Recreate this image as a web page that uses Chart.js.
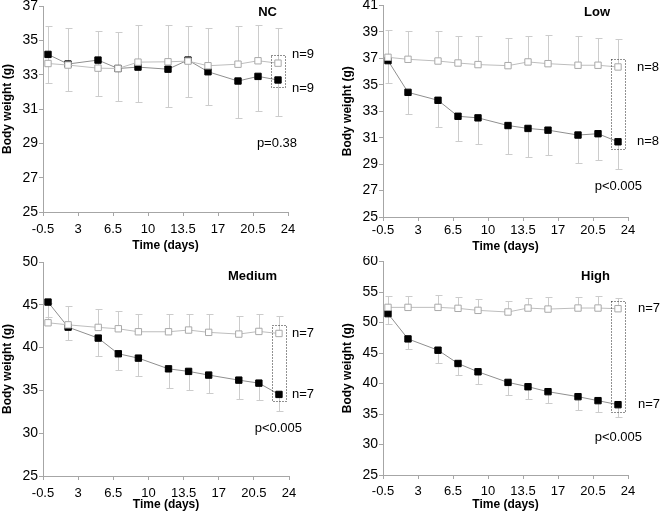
<!DOCTYPE html>
<html>
<head>
<meta charset="utf-8">
<script src="https://cdn.jsdelivr.net/npm/chart.js@4.4.1/dist/chart.umd.min.js"></script>
<style>
  body { margin: 0; background: #fff; }
  #wrap { position: relative; width: 661px; height: 513px; }
  canvas { position: absolute; }
</style>
</head>
<body>
<div id="wrap">
  <canvas id="nc" width="330" height="256" style="left:0;top:0"></canvas>
  <canvas id="low" width="331" height="256" style="left:330px;top:0"></canvas>
  <canvas id="medium" width="330" height="257" style="left:0;top:256px"></canvas>
  <canvas id="high" width="331" height="257" style="left:330px;top:256px"></canvas>
</div>
<script>
// days of measurement
const days = [0, 2, 5, 7, 9, 12, 14, 16, 19, 21, 23];
const xTicks = [-0.5, 3, 6.5, 10, 13.5, 17, 20.5, 24];

// NC group
const ncControl = [33.65, 33.56, 33.38, 33.36, 33.73, 33.75, 33.79, 33.52, 33.61, 33.81, 33.67];
const ncControlSd = [2.17, 2.13, 2.17, 2.13, 2.15, 2.13, 2.03, 2.17, 2.21, 2.07, 2.02];
const ncTreated = [34.18, 33.62, 33.85, 33.36, 33.44, 33.32, 33.85, 33.17, 32.63, 32.9, 32.69];
const ncTreatedSd = [1.69, 1.56, 2.09, 1.89, 2.05, 2.22, 2.13, 1.94, 2.13, 2.01, 2.1];
const ncTicks = [25, 27, 29, 31, 33, 35, 37];

// Low dose
const lowControl = [37.08, 36.93, 36.8, 36.65, 36.53, 36.45, 36.73, 36.6, 36.48, 36.48, 36.35];
const lowControlSd = [2.1, 2.12, 2.25, 2.08, 2.15, 2.1, 2.0, 2.15, 2.22, 2.07, 2.08];
const lowTreated = [36.83, 34.43, 33.83, 32.62, 32.5, 31.92, 31.7, 31.57, 31.2, 31.3, 30.69];
const lowTreatedSd = [1.66, 1.61, 2.03, 1.87, 2.0, 2.17, 2.18, 1.87, 2.13, 2.0, 2.07];
const lowTicks = [25, 27, 29, 31, 33, 35, 37, 39, 41];

// Medium dose
const medControl = [42.9, 42.66, 42.36, 42.2, 41.85, 41.85, 42.05, 41.78, 41.58, 41.89, 41.65];
const medControlSd = [2.3, 2.15, 2.17, 2.06, 2.1, 2.03, 1.9, 2.17, 2.06, 1.99, 1.99];
const medTreated = [45.32, 42.39, 41.11, 39.28, 38.77, 37.52, 37.22, 36.79, 36.2, 35.85, 34.53];
const medTreatedSd = [1.69, 1.55, 2.11, 1.94, 2.1, 2.22, 2.22, 2.07, 2.25, 2.02, 1.95];
const medTicks = [25, 30, 35, 40, 45, 50];

// High dose
const highControl = [52.48, 52.48, 52.48, 52.32, 51.99, 51.72, 52.37, 52.2, 52.37, 52.37, 52.26];
const highControlSd = [1.91, 1.91, 2.02, 1.85, 1.85, 1.85, 1.69, 1.97, 1.8, 2.02, 1.8];
const highTreated = [51.45, 47.31, 45.46, 43.28, 41.92, 40.18, 39.47, 38.66, 37.84, 37.19, 36.53];
const highTreatedSd = [1.69, 1.64, 2.18, 1.91, 2.02, 2.08, 2.07, 1.91, 2.19, 1.91, 2.07];
const highTicks = [25, 30, 35, 40, 45, 50, 55, 60];

const FONT = "'Liberation Sans', Arial, sans-serif";
const AXIS_GREY = "#a6a6a6";

// panel setup (plot area in canvas pixels + annotation placement)
const panels = [
  { id: "nc", title: "NC", control: ncControl, controlSd: ncControlSd, treated: ncTreated, treatedSd: ncTreatedSd,
    yTicks: ncTicks, n: "n=9", p: "p=0.38", pValue: 29.0,
    area: { left: 43, right: 288, top: 6, bottom: 212 }, yTitlePad: 0, xTickPad: 6, xTitlePad: 3,
    titleInset: 11, titleY: 12, nGap: 4, pGap: 9 },
  { id: "low", title: "Low", control: lowControl, controlSd: lowControlSd, treated: lowTreated, treatedSd: lowTreatedSd,
    yTicks: lowTicks, n: "n=8", p: "p<0.005", pValue: 27.3,
    area: { left: 53, right: 298, top: 3, bottom: 217 }, yTitlePad: 10, xTickPad: 2, xTitlePad: 2,
    titleInset: 18, titleY: 12, nGap: 9, pGap: 14 },
  { id: "medium", title: "Medium", control: medControl, controlSd: medControlSd, treated: medTreated, treatedSd: medTreatedSd,
    yTicks: medTicks, n: "n=7", p: "p<0.005", pValue: 30.6,
    area: { left: 43, right: 289, top: 6, bottom: 220 }, yTitlePad: 0, xTickPad: 6, xTitlePad: 1,
    titleInset: 12, titleY: 20, nGap: 3, pGap: 13 },
  { id: "high", title: "High", control: highControl, controlSd: highControlSd, treated: highTreated, treatedSd: highTreatedSd,
    yTicks: highTicks, n: "n=7", p: "p<0.005", pValue: 31.1,
    area: { left: 53, right: 298, top: 5, bottom: 219 }, yTitlePad: 10, xTickPad: 5, xTitlePad: 1,
    titleInset: 18, titleY: 20, nGap: 10, pGap: 14 }
];

// error bars, dotted box, labels
const extras = {
  id: "extras",
  beforeDatasetsDraw(chart) {
    const ctx = chart.ctx;
    const x = chart.scales.x, y = chart.scales.y;
    ctx.save();
    ctx.strokeStyle = "#cccccc";
    ctx.lineWidth = 1;
    chart.data.datasets.forEach(ds => {
      ds.data.forEach((pt, i) => {
        const px = Math.round(x.getPixelForValue(pt.x)) + 0.5;
        const y0 = y.getPixelForValue(pt.y);
        const y1 = Math.round(y.getPixelForValue(pt.y + ds.sdSign * ds.sd[i])) + 0.5;
        ctx.beginPath();
        ctx.moveTo(px, y0);
        ctx.lineTo(px, y1);
        ctx.moveTo(px - 3, y1);
        ctx.lineTo(px + 4, y1);
        ctx.stroke();
      });
    });
    ctx.restore();
  },
  afterDatasetsDraw(chart) {
    const ctx = chart.ctx;
    const cfg = chart.options.plugins.extras;
    const x = chart.scales.x, y = chart.scales.y;
    const area = chart.chartArea;
    const last = days.length - 1;
    const px = Math.round(x.getPixelForValue(days[last]));
    const yc = y.getPixelForValue(cfg.control[last]);
    const yt = y.getPixelForValue(cfg.treated[last]);
    ctx.save();
    // dotted box round the final day
    ctx.strokeStyle = "#222";
    ctx.lineWidth = 1;
    ctx.setLineDash([1, 2]);
    const top = Math.round(Math.min(yc, yt) - 8) + 0.5;
    const bottom = Math.round(Math.max(yc, yt) + 7) + 0.5;
    ctx.strokeRect(px - 7 + 0.5, top, 14, bottom - top);
    ctx.setLineDash([]);

    // n labels, pushed apart when the points are close
    let nTop = Math.min(yc, yt), nBottom = Math.max(yc, yt);
    if (nBottom - nTop < 34) {
      const mid = (nTop + nBottom) / 2;
      nTop = mid - 17; nBottom = mid + 17;
    }
    ctx.fillStyle = "#000";
    ctx.font = "13px " + FONT;
    ctx.textBaseline = "middle";
    ctx.textAlign = "left";
    ctx.fillText(cfg.n, area.right + cfg.nGap, nTop);
    ctx.fillText(cfg.n, area.right + cfg.nGap, nBottom);
    ctx.textAlign = "right";
    ctx.fillText(cfg.p, area.right + cfg.pGap, y.getPixelForValue(cfg.pValue));

    ctx.font = "bold 13px " + FONT;
    ctx.fillText(cfg.title, area.right - cfg.titleInset, cfg.titleY);
    ctx.restore();
  }
};

panels.forEach(p => {
  const canvas = document.getElementById(p.id);
  const W = canvas.width, H = canvas.height;
  new Chart(canvas, {
    type: "line",
    data: {
      datasets: [
        {
          label: "Control",
          data: days.map((d, i) => ({ x: d, y: p.control[i] })),
          sd: p.controlSd,
          sdSign: 1,
          borderColor: "#bdbdbd",
          borderWidth: 1,
          pointStyle: "rect",
          pointRadius: 4.5,
          pointBackgroundColor: "#fff",
          pointBorderColor: "#a9a9a9",
          pointBorderWidth: 1
        },
        {
          label: "Treated",
          data: days.map((d, i) => ({ x: d, y: p.treated[i] })),
          sd: p.treatedSd,
          sdSign: -1,
          borderColor: "#8f8f8f",
          borderWidth: 1,
          pointStyle: "rect",
          pointRadius: 4.5,
          pointBackgroundColor: "#000",
          pointBorderColor: "#000",
          pointBorderWidth: 1
        }
      ]
    },
    options: {
      responsive: false,
      animation: false,
      events: [],
      layout: { padding: { left: 0, top: p.area.top, right: W - p.area.right, bottom: 0 } },
      plugins: {
        legend: { display: false },
        tooltip: { enabled: false },
        extras: { title: p.title, n: p.n, p: p.p, pValue: p.pValue, control: p.control, treated: p.treated,
                  titleInset: p.titleInset, titleY: p.titleY, nGap: p.nGap, pGap: p.pGap }
      },
      scales: {
        x: {
          type: "linear",
          min: xTicks[0],
          max: xTicks[xTicks.length - 1],
          afterBuildTicks: s => { s.ticks = xTicks.map(v => ({ value: v })); },
          afterFit: s => { s.height = H - p.area.bottom; s.paddingLeft = 0; s.paddingRight = 0; },
          grid: { drawOnChartArea: false, tickLength: 4, color: AXIS_GREY },
          border: { color: AXIS_GREY },
          ticks: { autoSkip: false, maxRotation: 0, padding: p.xTickPad, color: "#000",
                   font: { family: FONT, size: 13 }, callback: v => String(v) },
          title: { display: true, text: "Time (days)", color: "#000",
                   font: { family: FONT, size: 12, weight: "bold" }, padding: { top: 0, bottom: p.xTitlePad } }
        },
        y: {
          min: p.yTicks[0],
          max: p.yTicks[p.yTicks.length - 1],
          afterBuildTicks: s => { s.ticks = p.yTicks.map(v => ({ value: v })); },
          afterFit: s => { s.width = p.area.left; s.paddingTop = 0; s.paddingBottom = 0; },
          grid: { drawOnChartArea: false, tickLength: 4, color: AXIS_GREY },
          border: { color: AXIS_GREY },
          ticks: { padding: 1, color: "#000", font: { family: FONT, size: 14 }, callback: v => String(v) },
          title: { display: true, text: "Body weight (g)", color: "#000",
                   font: { family: FONT, size: 12, weight: "bold" }, padding: { top: p.yTitlePad, bottom: 0 } }
        }
      }
    },
    plugins: [extras]
  });
});
</script>
</body>
</html>
